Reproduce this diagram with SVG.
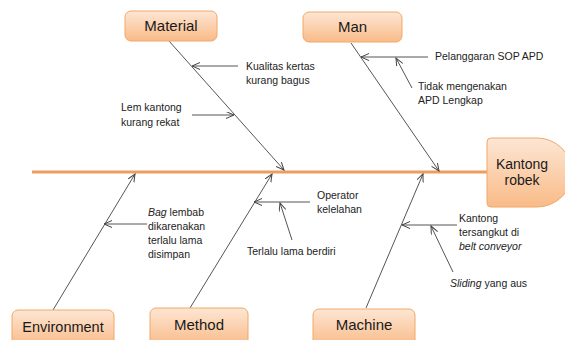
<svg xmlns="http://www.w3.org/2000/svg" width="565" height="340" viewBox="0 0 565 340">
<style>
.lbl{font-family:"Liberation Sans",Arial,sans-serif;font-size:10.5px;fill:#222}
.box{fill:url(#g);stroke:#f0a868;stroke-width:1}
.bt{font-family:"Liberation Sans",Arial,sans-serif;font-size:15px;fill:#1a1a1a;text-anchor:middle}
.c{stroke:#555;stroke-width:1;fill:none;marker-end:url(#a)}
</style>
<defs>
<linearGradient id="g" x1="0" y1="0" x2="0" y2="1">
<stop offset="0" stop-color="#fde6d4"/>
<stop offset="1" stop-color="#f9bb88"/>
</linearGradient>
<marker id="a" markerUnits="userSpaceOnUse" markerWidth="10" markerHeight="8" refX="8" refY="3.5" orient="auto">
<path d="M0,0 L8,3.5 L0,7" fill="none" stroke="#444" stroke-width="1"/>
</marker>
</defs>
<rect width="565" height="340" fill="#fff"/>
<g id="connectors">
<line x1="32" y1="172" x2="488" y2="172" stroke="#ef9d5f" stroke-width="3"/>
<line class="c" x1="169" y1="41" x2="284" y2="170"/>
<line class="c" x1="351" y1="43" x2="439" y2="171"/>
<line class="c" x1="53" y1="310" x2="135" y2="174"/>
<line class="c" x1="190" y1="308" x2="272" y2="174"/>
<line class="c" x1="366" y1="308" x2="423" y2="174"/>
<line class="c" x1="238" y1="66" x2="192" y2="66"/>
<line class="c" x1="192" y1="115" x2="234" y2="115"/>
<line class="c" x1="428" y1="57" x2="361" y2="57"/>
<line class="c" x1="412" y1="88" x2="396" y2="58"/>
<line class="c" x1="147" y1="224" x2="104" y2="224"/>
<line class="c" x1="310" y1="202" x2="254" y2="202"/>
<line class="c" x1="292" y1="240" x2="280" y2="203"/>
<line class="c" x1="457" y1="225" x2="402" y2="225"/>
<line class="c" x1="453" y1="272" x2="431" y2="226"/>
</g>
<g id="material"><rect class="box" x="125" y="11" width="92" height="30" rx="6"/><text class="bt" x="171" y="31">Material</text></g>
<g id="man"><rect class="box" x="303" y="12" width="99" height="30" rx="6"/><text class="bt" x="352.5" y="32">Man</text></g>
<g id="environment"><rect class="box" x="12" y="310" width="102" height="36" rx="6"/><text class="bt" x="63" y="332" style="font-size:14.5px">Environment</text></g>
<g id="method"><rect class="box" x="150" y="308" width="98" height="38" rx="6"/><text class="bt" x="199" y="330">Method</text></g>
<g id="machine"><rect class="box" x="313" y="309" width="102" height="37" rx="6"/><text class="bt" x="364" y="330">Machine</text></g>
<g id="head"><path class="box" d="M487,142 Q487,138 491,138 L537,138 A35,34.5 0 0 1 537,207 L491,207 Q487,207 487,203 Z"/><text class="bt" x="522" y="169" style="font-size:14px">Kantong</text><text class="bt" x="522" y="185" style="font-size:14px">robek</text></g>
<g id="labels">
<text class="lbl" x="246" y="69.5">Kualitas kertas</text>
<text class="lbl" x="246" y="83.5">kurang bagus</text>
<text class="lbl" x="121" y="111">Lem kantong</text>
<text class="lbl" x="121" y="125.5">kurang rekat</text>
<text class="lbl" x="435" y="60">Pelanggaran SOP APD</text>
<text class="lbl" x="418" y="90">Tidak mengenakan</text>
<text class="lbl" x="418" y="104">APD Lengkap</text>
<text class="lbl" x="148" y="216"><tspan font-style="italic">Bag</tspan> lembab</text>
<text class="lbl" x="148" y="230">dikarenakan</text>
<text class="lbl" x="148" y="244">terlalu lama</text>
<text class="lbl" x="148" y="258">disimpan</text>
<text class="lbl" x="317" y="199">Operator</text>
<text class="lbl" x="317" y="213">kelelahan</text>
<text class="lbl" x="247" y="255">Terlalu lama berdiri</text>
<text class="lbl" x="459" y="222">Kantong</text>
<text class="lbl" x="459" y="236">tersangkut di</text>
<text class="lbl" x="459" y="250" font-style="italic">belt conveyor</text>
<text class="lbl" x="450" y="287"><tspan font-style="italic">Sliding</tspan> yang aus</text>
</g>
</svg>
